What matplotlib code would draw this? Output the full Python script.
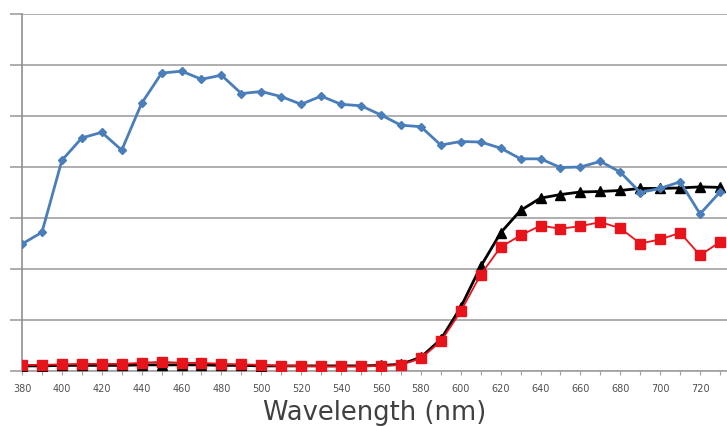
import matplotlib
matplotlib.use("Agg")
import matplotlib.pyplot as plt
import numpy as np

wavelength = list(range(380, 731, 10))

blue = [2.49, 2.72, 4.13, 4.57, 4.68, 4.33, 5.25, 5.84, 5.88, 5.72,
        5.80, 5.44, 5.48, 5.38, 5.23, 5.39, 5.23, 5.20, 5.02, 4.82,
        4.79, 4.43, 4.50, 4.49, 4.37, 4.16, 4.16, 3.99, 4.00, 4.11,
        3.90, 3.50, 3.58, 3.71, 3.08, 3.51]

black = [0.10, 0.10, 0.11, 0.11, 0.11, 0.11, 0.12, 0.12, 0.12, 0.12,
         0.11, 0.11, 0.10, 0.10, 0.10, 0.10, 0.10, 0.10, 0.11, 0.13,
         0.27, 0.62, 1.25, 2.05, 2.71, 3.15, 3.39, 3.46, 3.51, 3.52,
         3.54, 3.58, 3.58, 3.59, 3.61, 3.60]

red = [0.12, 0.12, 0.13, 0.14, 0.14, 0.14, 0.16, 0.18, 0.16, 0.16,
       0.14, 0.13, 0.12, 0.10, 0.10, 0.09, 0.09, 0.09, 0.10, 0.12,
       0.25, 0.58, 1.17, 1.89, 2.43, 2.66, 2.85, 2.79, 2.84, 2.92,
       2.80, 2.50, 2.58, 2.71, 2.27, 2.53]

x_tick_labels = [str(v) for v in range(380, 721, 20)]
x_label = "Wavelength (nm)"

fig = plt.figure(figsize=(7.27, 4.27), dpi=100)
ax = fig.add_axes([22/727, 55/427, 705/727, 357/427])

ax.plot(wavelength, black, color="black", lw=2.0, marker="^", ms=6.5, zorder=3)
ax.plot(wavelength, red, color="#E8141B", lw=1.3, marker="s", ms=7, zorder=4)
ax.plot(wavelength, blue, color="#4A7EBB", lw=2.0, marker="D", ms=4.5, zorder=5)

ax.set_xlim(380, 733.5)
ax.set_ylim(0, 7)
ax.set_yticks(np.arange(0, 8, 1))
ax.set_yticklabels([])
ax.tick_params(axis="y", length=9, width=1.2, color="#A0A0A0", direction="out")
ax.set_xticks(list(range(380, 721, 20)))
ax.set_xticklabels(x_tick_labels, fontsize=7, color="#505050")
ax.set_xticks(list(range(390, 731, 20)), minor=True)
ax.tick_params(axis="x", which="both", length=3, width=0.8, color="#A0A0A0", direction="out", pad=6)
ax.grid(axis="y", color="#A8A8A8", lw=1.3)
ax.set_axisbelow(True)

for s in ["top", "right"]:
    ax.spines[s].set_visible(False)
ax.spines["left"].set_color("#909090")
ax.spines["left"].set_linewidth(1.2)
ax.spines["bottom"].set_color("#A0A0A0")
ax.spines["bottom"].set_linewidth(1.2)

ax.set_xlabel(x_label, fontsize=18.5, color="#404040", family="DejaVu Sans", labelpad=4)

fig.savefig("out.png", dpi=100)
